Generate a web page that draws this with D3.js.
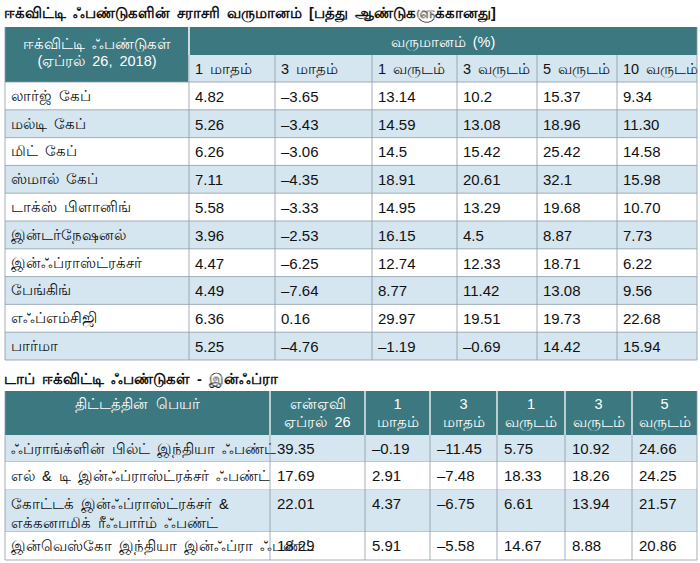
<!DOCTYPE html>
<html><head><meta charset="utf-8">
<script src="https://cdn.jsdelivr.net/npm/d3@7"></script>
<style>body{margin:0;background:#fff}svg{display:block}text{font-family:"Liberation Sans",Arial,sans-serif;word-spacing:3px}</style>
</head><body><div id="c"></div>
<script>
const title1 = 'ஈக்விட்டி ஃபண்டுகளின் சராசரி வருமானம் [பத்து ஆண்டுகளுக்கானது]'
const head1Left = ['ஈக்விட்டி ஃபண்டுகள்', '(ஏப்ரல் 26, 2018)']
const head1Group = 'வருமானம் (%)'
const periods1 = ['1 மாதம்', '3 மாதம்', '1 வருடம்', '3 வருடம்', '5 வருடம்', '10 வருடம்']
const funds1 = ['லார்ஜ் கேப்', 'மல்டி கேப்', 'மிட் கேப்', 'ஸ்மால் கேப்', 'டாக்ஸ் பிளானிங்', 'இன்டர்நேஷனல்', 'இன்ஃப்ராஸ்ட்ரக்சர்', 'பேங்கிங்', 'எஃப்எம்சிஜி', 'பார்மா']
const values1 = [
  ['4.82', '–3.65', '13.14', '10.2', '15.37', '9.34'],
  ['5.26', '–3.43', '14.59', '13.08', '18.96', '11.30'],
  ['6.26', '–3.06', '14.5', '15.42', '25.42', '14.58'],
  ['7.11', '–4.35', '18.91', '20.61', '32.1', '15.98'],
  ['5.58', '–3.33', '14.95', '13.29', '19.68', '10.70'],
  ['3.96', '–2.53', '16.15', '4.5', '8.87', '7.73'],
  ['4.47', '–6.25', '12.74', '12.33', '18.71', '6.22'],
  ['4.49', '–7.64', '8.77', '11.42', '13.08', '9.56'],
  ['6.36', '0.16', '29.97', '19.51', '19.73', '22.68'],
  ['5.25', '–4.76', '–1.19', '–0.69', '14.42', '15.94']
]

const title2 = 'டாப் ஈக்விட்டி ஃபண்டுகள் - இன்ஃப்ரா'
const head2 = [['திட்டத்தின் பெயர்'], ['என்ஏவி', 'ஏப்ரல் 26'], ['1', 'மாதம்'], ['3', 'மாதம்'], ['1', 'வருடம்'], ['3', 'வருடம்'], ['5', 'வருடம்']]
const funds2 = [['ஃப்ராங்க்ளின் பில்ட் இந்தியா ஃபண்ட்'], ['எல் & டி இன்ஃப்ராஸ்ட்ரக்சர் ஃபண்ட்'], ['கோட்டக்  இன்ஃப்ராஸ்ட்ரக்சர்  &', 'எக்கனாமிக் ரீஃபார்ம் ஃபண்ட்'], ['இன்வெஸ்கோ இந்தியா இன்ஃப்ரா ஃபண்ட்']]
const values2 = [
  ['39.35', '–0.19', '–11.45', '5.75', '10.92', '24.66'],
  ['17.69', '2.91', '–7.48', '18.33', '18.26', '24.25'],
  ['22.01', '4.37', '–6.75', '6.61', '13.94', '21.57'],
  ['18.29', '5.91', '–5.58', '14.67', '8.88', '20.86']
]

const teal = '#3c7880', light = '#d6e6f0', line = '#8a9aa6'
const fsT = 14.5, fsN = 15
const svg = d3.select('#c').append('svg').attr('width', 700).attr('height', 563)

// ---- table 1
const edges1 = [5, 189, 275, 372, 457, 537, 617, 697]
const y1 = d3.scaleBand().domain(d3.range(10)).range([82, 360])

svg.append('text').attr('x', 4).attr('y', 18).attr('font-size', 14.5).attr('font-weight', 'bold').attr('fill', '#111').text(title1)

svg.append('rect').attr('x', 5).attr('y', 27).attr('width', 692).attr('height', 55).attr('fill', teal)
svg.append('rect').attr('x', 189).attr('y', 55).attr('width', 508).attr('height', 27).attr('fill', light)
svg.append('line').attr('x1', 189).attr('x2', 189).attr('y1', 27).attr('y2', 82).attr('stroke', '#fff').attr('stroke-width', 1.5)
svg.append('text').attr('text-anchor', 'middle').attr('fill', '#fff').attr('font-size', fsT)
  .selectAll('tspan').data(head1Left).join('tspan').attr('x', 97).attr('y', (d, i) => 49 + i * 17).text(d => d)
svg.append('text').attr('x', 443).attr('y', 47).attr('text-anchor', 'middle').attr('fill', '#fff').attr('font-size', fsT).text(head1Group)
svg.selectAll('.p1').data(periods1).join('text')
  .attr('x', (d, i) => edges1[i + 1] + 6).attr('y', 74).attr('font-size', fsT).attr('fill', '#111').text(d => d)

const rows1 = svg.selectAll('.r1').data(funds1).join('g').attr('transform', (d, i) => `translate(0,${y1(i)})`)
rows1.append('rect').attr('x', 5).attr('width', 692).attr('height', y1.bandwidth()).attr('fill', (d, i) => i % 2 ? light : '#fff')
rows1.append('text').attr('x', 11).attr('y', y1.bandwidth() / 2 + 5).attr('font-size', fsT).attr('fill', '#111').text(d => d)
rows1.each(function (d, i) {
  d3.select(this).selectAll('.v').data(values1[i]).join('text')
    .attr('x', (v, j) => edges1[j + 1] + 6).attr('y', y1.bandwidth() / 2 + 6)
    .attr('font-size', fsN).attr('fill', '#111').text(v => v)
})
svg.selectAll('.h1').data(d3.range(11)).join('line')
  .attr('x1', 5).attr('x2', 697).attr('y1', i => i < 10 ? y1(i) : 360).attr('y2', i => i < 10 ? y1(i) : 360).attr('stroke', line).attr('stroke-width', 0.8)
svg.selectAll('.vl1').data(edges1).join('line')
  .attr('x1', d => d).attr('x2', d => d).attr('y1', (d, i) => i === 0 || i === 7 ? 27 : 55).attr('y2', 360).attr('stroke', line).attr('stroke-width', 0.8)

// ---- table 2
const edges2 = [5, 270, 365, 430, 497, 565, 632, 697]
const rowH2 = [27, 28, 42, 28]
const rowTop2 = d3.cumsum([435, ...rowH2])

svg.append('text').attr('x', 4).attr('y', 384).attr('font-size', 14.5).attr('font-weight', 'bold').attr('fill', '#111').text(title2)
svg.append('rect').attr('x', 5).attr('y', 391).attr('width', 692).attr('height', 44).attr('fill', teal)
head2.forEach((h, i) => {
  const cx = (edges2[i] + edges2[i + 1]) / 2
  const t = svg.append('text').attr('text-anchor', 'middle').attr('fill', '#fff').attr('font-size', fsT)
  t.selectAll('tspan').data(h).join('tspan').attr('x', cx).attr('y', (d, k) => 409 + k * 18).text(d => d)
})
funds2.forEach((f, i) => {
  const top = rowTop2[i], hgt = rowH2[i]
  const g = svg.append('g').attr('transform', `translate(0,${top})`)
  g.append('rect').attr('x', 5).attr('width', 692).attr('height', hgt).attr('fill', i % 2 ? '#fff' : light)
  g.append('text').attr('font-size', fsT).attr('fill', '#111')
    .selectAll('tspan').data(f).join('tspan').attr('x', 11).attr('y', (d, k) => 19 + k * 19).text(d => d)
  g.selectAll('.v').data(values2[i]).join('text')
    .attr('x', (v, j) => edges2[j + 1] + 7).attr('y', 19).attr('font-size', fsN).attr('fill', '#111').text(v => v)
  g.append('line').attr('x1', 5).attr('x2', 697).attr('y1', hgt).attr('y2', hgt).attr('stroke', line).attr('stroke-width', 0.8)
})
svg.selectAll('.vl2').data(edges2).join('line')
  .attr('x1', d => d).attr('x2', d => d).attr('y1', 391).attr('y2', 560).attr('stroke', line).attr('stroke-width', 0.8)
svg.selectAll('.vl2h').data(edges2.slice(1, -1)).join('line')
  .attr('x1', d => d).attr('x2', d => d).attr('y1', 391).attr('y2', 435).attr('stroke', '#fff').attr('stroke-width', 1.2)
</script></body></html>
